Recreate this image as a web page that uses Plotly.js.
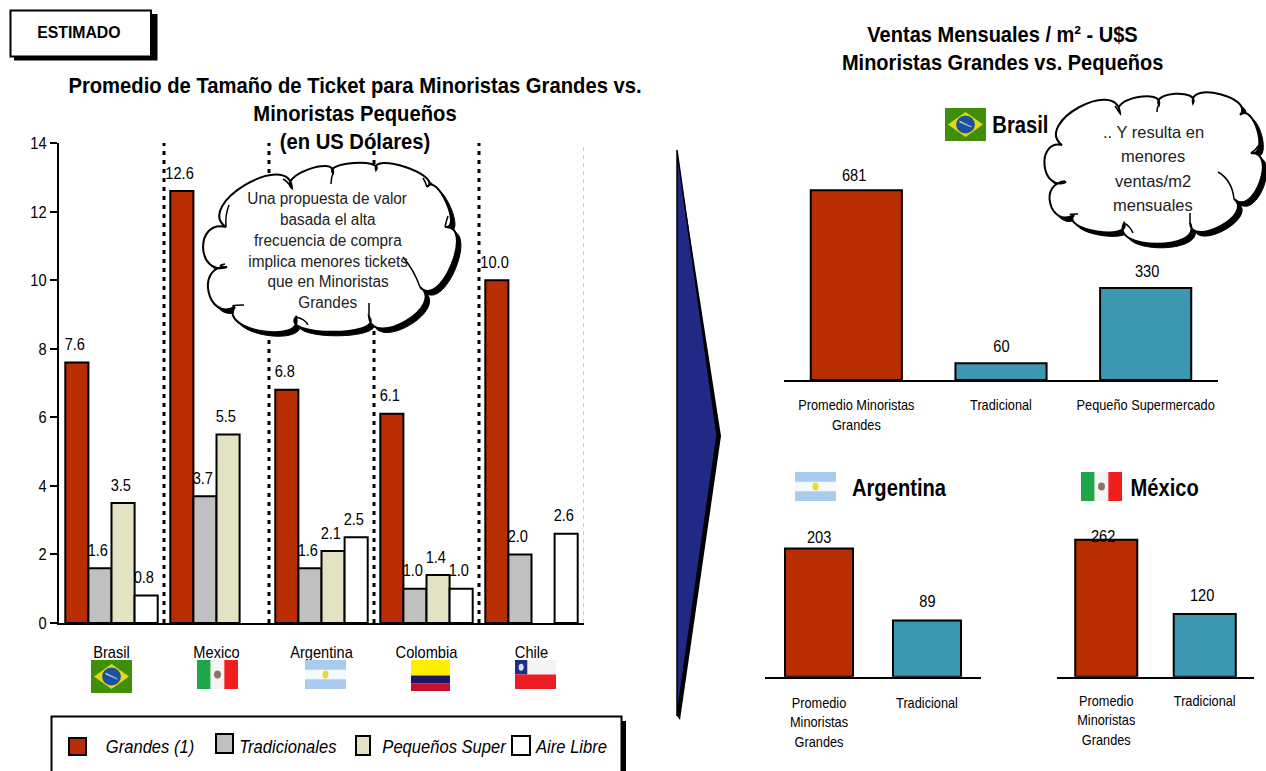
<!DOCTYPE html>
<html>
<head>
<meta charset="utf-8">
<script src="https://cdn.plot.ly/plotly-3.0.1.min.js"></script>
<style>html,body{margin:0;padding:0;background:#fff;overflow:hidden}</style>
</head>
<body>
<div id="chart" style="width:1266px;height:771px"></div>
<script>
// Ticket size by retailer type, per country
const countries = ['Brasil', 'Mexico', 'Argentina', 'Colombia', 'Chile'];
const grandes = [7.6, 12.6, 6.8, 6.1, 10.0];
const tradicionales = [1.6, 3.7, 1.6, 1.0, 2.0];
const pequenos = [3.5, 5.5, 2.1, 1.4, null];
const aireLibre = [0.8, null, 2.5, 1.0, 2.6];
const yTicks = [0, 2, 4, 6, 8, 10, 12, 14];

// Monthly sales per square metre
const brasilCats = ['Promedio Minoristas<br>Grandes', 'Tradicional', 'Pequeño Supermercado'];
const brasilVentas = [681, 60, 330];
const argentinaCats = ['Promedio<br>Minoristas<br>Grandes', 'Tradicional'];
const argentinaVentas = [203, 89];
const mexicoCats = ['Promedio<br>Minoristas<br>Grandes', 'Tradicional'];
const mexicoVentas = [262, 120];

const W = 1266, H = 771;
const FONT = '"Liberation Sans",Arial,sans-serif';
const RED = '#B82E00', GREY = '#C0C0C0', BEIGE = '#E3E3C3', TEAL = '#3E97B0', NAVY = '#202A85';
const px = x => x / W;
const py = y => 1 - y / H;

const shapes = [];
const annotations = [];

function rect(x0, y0, x1, y1, fill, line, lw) {
  shapes.push({type: 'rect', xref: 'paper', yref: 'paper', x0: px(x0), x1: px(x1), y0: py(y0), y1: py(y1),
    fillcolor: fill, line: {color: line || fill, width: line ? (lw || 1) : 0}});
}
function poly(points, fill, line, lw) {
  const d = points.map((p, i) => (i ? 'L' : 'M') + px(p[0]) + ' ' + py(p[1])).join(' ') + ' Z';
  shapes.push({type: 'path', xref: 'paper', yref: 'paper', path: d, fillcolor: fill,
    line: {color: line || fill, width: line ? (lw || 1) : 0}});
}
function disc(cx, cy, rx, ry, fill) {
  shapes.push({type: 'circle', xref: 'paper', yref: 'paper', x0: px(cx - rx), x1: px(cx + rx),
    y0: py(cy + ry), y1: py(cy - ry), fillcolor: fill, line: {width: 0}});
}
function label(text, x, y, size, font) {
  annotations.push({text, x: px(x), y: py(y), xref: 'paper', yref: 'paper', showarrow: false,
    xanchor: 'center', yanchor: 'middle', align: 'center',
    font: Object.assign({family: FONT, size, color: '#000'}, font || {})});
}
function textLines(lines, cx, y0, dy, size, color) {
  lines.forEach((t, i) => label(t, cx, y0 + i * dy, size, {color}));
}

// Scalloped outline: one cubic lobe between each pair of junction points
function lobes(pts, bulges, dx, dy) {
  let d = '';
  const n = pts.length;
  const X = x => px(x + dx), Y = y => py(y + dy);
  pts.forEach((a, i) => {
    const b = pts[(i + 1) % n];
    const vx = b[0] - a[0], vy = b[1] - a[1];
    const nx = vy, ny = -vx;
    const k = bulges[i];
    const c1 = [a[0] + nx * k - vx * 0.22, a[1] + ny * k - vy * 0.22];
    const c2 = [b[0] + nx * k + vx * 0.22, b[1] + ny * k + vy * 0.22];
    if (i === 0) d += 'M' + X(a[0]) + ' ' + Y(a[1]);
    d += ' C' + X(c1[0]) + ' ' + Y(c1[1]) + ' ' + X(c2[0]) + ' ' + Y(c2[1]) + ' ' + X(b[0]) + ' ' + Y(b[1]);
  });
  return d + ' Z';
}
function cloud(pts, bulges, creases, shadow) {
  shapes.push({type: 'path', xref: 'paper', yref: 'paper', path: lobes(pts, bulges, shadow, shadow),
    fillcolor: '#000', line: {color: '#000', width: 1}});
  shapes.push({type: 'path', xref: 'paper', yref: 'paper', path: lobes(pts, bulges, 0, 0),
    fillcolor: '#fff', line: {color: '#000', width: 2}});
  creases.forEach(c => {
    const d = 'M' + px(c[0]) + ' ' + py(c[1]) + ' Q' + px(c[2]) + ' ' + py(c[3]) + ' ' + px(c[4]) + ' ' + py(c[5]);
    shapes.push({type: 'path', xref: 'paper', yref: 'paper', path: d, line: {color: '#000', width: 1.5}});
  });
}

// Flags, drawn from simple shapes
function flagBrasil(x0, y0, x1, y1) {
  const cx = (x0 + x1) / 2, cy = (y0 + y1) / 2, w = x1 - x0, h = y1 - y0;
  rect(x0, y0, x1, y1, '#3F8F0A');
  poly([[x0 + 3, cy], [cx, y0 + 4], [x1 - 3, cy], [cx, y1 - 4]], '#E4D810');
  disc(cx, cy, w * 0.23, h * 0.27, '#1F4FA0');
  poly([[cx - 6, cy - 4], [cx + 6, cy + 2], [cx + 6, cy + 3], [cx - 6, cy - 2]], '#A9C4DE');
}
function flagMexico(x0, y0, x1, y1) {
  const t = (x1 - x0) / 3, cy = (y0 + y1) / 2;
  rect(x0, y0, x0 + t, y1, '#1FA64A');
  rect(x0 + t, y0, x0 + 2 * t, y1, '#F4F4F4');
  rect(x0 + 2 * t, y0, x1, y1, '#F01E1E');
  disc((x0 + x1) / 2, cy, 3.5, 4, '#8A7468');
}
function flagArgentina(x0, y0, x1, y1) {
  const t = (y1 - y0) / 3, cy = (y0 + y1) / 2;
  rect(x0, y0, x1, y1, '#A8CBEE');
  rect(x0, y0 + t, x1, y0 + 2 * t, '#F6F9FD');
  disc((x0 + x1) / 2, cy, 3, 4, '#E8DC30');
}
function flagColombia(x0, y0, x1, y1) {
  const h = y1 - y0;
  rect(x0, y0, x1, y0 + h / 2, '#FFEE00');
  rect(x0, y0 + h / 2, x1, y0 + 0.75 * h, '#1E1464');
  rect(x0, y0 + 0.75 * h, x1, y1, '#C8102E');
}
function flagChile(x0, y0, x1, y1) {
  const m = (y0 + y1) / 2, sq = (x1 - x0) * 0.3;
  rect(x0, y0, x1, m, '#F4F4F4');
  rect(x0, y0, x0 + sq, m, '#1A2E8C');
  disc(x0 + sq / 2, (y0 + m) / 2, 2.5, 3.5, '#D8E0EE');
  rect(x0, m, x1, y1, '#EE1C25');
}

// Separators between the country groups, beneath the callout
countries.forEach((c, i) => {
  const last = i === countries.length - 1;
  shapes.push({type: 'line', xref: 'x', yref: 'y', x0: i + 0.5, x1: i + 0.5, y0: 0, y1: 14,
    line: last ? {color: '#9A9A9A', width: 1, dash: '4px,4px'} : {color: '#000', width: 3, dash: '4px,5px'}});
});

// "Estimado" stamp
rect(14, 14, 157.5, 60.5, '#000');
rect(10.5, 10.5, 151, 56.5, '#fff', '#000', 2);
label('ESTIMADO', 79, 33, 17, {weight: 'bold'});

// Callouts
cloud([[226, 227], [292, 188], [333, 173], [376, 170], [427, 187], [445, 227], [420, 287], [369, 317], [296, 317], [235, 307], [227, 267]],
  [0.46, 0.36, 0.26, 0.3, 0.34, 0.42, 0.5, 0.27, 0.42, 0.75, 0.78],
  [[226, 227, 225, 215, 229, 205], [292, 188, 287, 181, 283, 179], [333, 173, 331, 178, 331, 184], [427, 187, 426, 183, 423, 178],
   [445, 227, 446, 222, 448, 216], [420, 287, 414, 270, 403, 257], [369, 317, 369, 309, 369, 303],
   [296, 317, 305, 319, 308, 325], [235, 307, 228, 305, 244, 305], [227, 267, 215, 266, 225, 264]], 4);
cloud([[1062, 145], [1120, 113], [1159, 105], [1193, 103], [1240, 115], [1251, 153], [1234, 199], [1190, 223], [1124, 223], [1074, 215], [1066, 182]],
  [0.5, 0.4, 0.4, 0.42, 0.42, 0.5, 0.46, 0.42, 0.33, 0.8, 0.7],
  [[1120, 113, 1117, 109, 1115, 106], [1159, 105, 1157, 107, 1157, 112], [1251, 153, 1256, 150, 1259, 145],
   [1234, 199, 1232, 180, 1218, 172], [1190, 223, 1190, 218, 1190, 213],
   [1124, 223, 1130, 226, 1133, 233], [1074, 215, 1065, 214, 1078, 214], [1066, 182, 1055, 182, 1065, 181]], 4);
textLines(['Una propuesta de valor', 'basada el alta', 'frecuencia de compra', 'implica menores tickets', 'que en Minoristas', 'Grandes'], 328, 199, 20.7, 16, '#222');
textLines(['.. Y resulta en', 'menores', 'ventas/m2', 'mensuales'], 1153, 132, 24.3, 16.5, '#222');

// Pointer between the two panels
poly([[677, 152], [721, 436], [680, 720], [677, 716]], '#000');
poly([[677, 150], [717, 435], [677, 716]], NAVY, '#000', 1.5);

// Country flags below the ticket chart and beside the sales charts
flagBrasil(91, 660, 132, 693);
flagMexico(197, 660, 238, 689);
flagArgentina(305, 660, 346, 689);
flagColombia(411, 660, 450, 691);
flagChile(515, 660, 556, 689);
flagBrasil(945, 108, 986, 141);
flagArgentina(795, 472, 836, 501);
flagMexico(1081, 472, 1122, 501);

// Panel headings
label('Ventas Mensuales / m² - U$S', 1002, 35, 22, {weight: 'bold'});
label('Minoristas Grandes vs. Pequeños', 1002, 62, 22, {weight: 'bold'});
label('Brasil', 1020, 125, 24, {weight: 'bold'});
label('Argentina', 899, 487, 24, {weight: 'bold'});
label('México', 1164, 487, 24, {weight: 'bold'});

// Key for the ticket chart, its lower edge running off the page
rect(56, 721, 626, 790, '#000');
rect(51.5, 716.5, 621.5, 790, '#fff', '#000', 2);
const keyNames = ['Grandes (1)', 'Tradicionales', 'Pequeños Super', 'Aire Libre'];
const keyColors = [RED, GREY, BEIGE, '#fff'];
const keySwatch = [[69, 738, 86, 755], [216, 734, 233, 753], [356, 736, 370, 755], [512, 736, 530, 755]];
const keyText = [150, 288, 444.5, 570.5];
keyNames.forEach((n, i) => {
  const s = keySwatch[i];
  rect(s[0], s[1], s[2], s[3], keyColors[i], '#000', 2);
  label(n, keyText[i], 747, 18, {style: 'italic'});
});

// Value labels, placed relative to the scaled value
function ticketLabels(values, slot) {
  values.forEach((v, i) => {
    if (v === null) return;
    annotations.push({text: v.toFixed(1), xref: 'x', yref: 'y', x: i + (slot - 1.5) * 0.22, y: v,
      xshift: -2, yshift: 18, showarrow: false, xanchor: 'center', yanchor: 'middle',
      font: {family: FONT, size: 17, color: '#000'}});
  });
}
[grandes, tradicionales, pequenos, aireLibre].forEach(ticketLabels);

function salesLabels(cats, values, axis, shiftX, shiftY) {
  values.forEach((v, i) => {
    annotations.push({text: String(v), xref: 'x' + axis, yref: 'y' + axis, x: cats[i], y: v,
      xshift: shiftX[i], yshift: shiftY[i], showarrow: false, xanchor: 'center', yanchor: 'middle',
      font: {family: FONT, size: 17, color: '#000'}});
  });
}
salesLabels(brasilCats, brasilVentas, 2, [-2, 0, 1], [15, 17, 17]);
salesLabels(argentinaCats, argentinaVentas, 3, [0, 0], [11, 19]);
salesLabels(mexicoCats, mexicoVentas, 4, [-3, -3], [3, 19]);

const bar = (name, y, color) => ({type: 'bar', name, x: countries.map((c, i) => i), y,
  marker: {color, line: {color: '#000', width: 2}}, xaxis: 'x', yaxis: 'y', hoverinfo: 'name+y'});
const sales = (x, y, colors, axis) => ({type: 'bar', x, y, width: 0.63,
  marker: {color: colors, line: {color: '#000', width: 2}}, xaxis: 'x' + axis, yaxis: 'y' + axis, hoverinfo: 'x+y'});

const data = [
  bar('Grandes (1)', grandes, RED),
  bar('Tradicionales', tradicionales, GREY),
  bar('Pequeños Super', pequenos, BEIGE),
  bar('Aire Libre', aireLibre, '#fff'),
  sales(brasilCats, brasilVentas, [RED, TEAL, TEAL], 2),
  sales(argentinaCats, argentinaVentas, [RED, TEAL], 3),
  sales(mexicoCats, mexicoVentas, [RED, TEAL], 4)
];

const salesX = (x0, x1, anchor, standoff) => ({domain: [px(x0), px(x1)], anchor, showline: true, linecolor: '#000', linewidth: 2,
  ticks: '', showgrid: false, zeroline: false, automargin: false, tickangle: 0, ticklabelstandoff: standoff,
  tickfont: {family: FONT, size: 15, color: '#000'}});
const salesY = (top, base, anchor, max) => ({domain: [py(base), py(top)], anchor, range: [0, max], visible: false, showgrid: false, zeroline: false});

const layout = {
  width: W, height: H, autosize: false, showlegend: false, barmode: 'group',
  bargap: 0.12, bargroupgap: 0,
  paper_bgcolor: '#fff', plot_bgcolor: 'rgba(0,0,0,0)',
  margin: {l: 0, r: 0, t: 0, b: 0},
  title: {text: 'Promedio de Tamaño de Ticket para Minoristas Grandes vs.<br>Minoristas Pequeños<br>(en US Dólares)',
    xref: 'paper', yref: 'paper', x: px(355), y: py(93), xanchor: 'center', yanchor: 'middle',
    font: {family: FONT, size: 21.5, weight: 'bold', color: '#000'}},
  xaxis: {domain: [px(59), px(584)], anchor: 'y', range: [-0.5, 4.5], tickvals: countries.map((c, i) => i), ticktext: countries,
    showline: true, linecolor: '#000', linewidth: 2, ticks: '', showgrid: false, zeroline: false, automargin: false,
    ticklabelstandoff: 13, tickfont: {family: FONT, size: 17, color: '#000'}},
  yaxis: {domain: [py(623), py(143)], anchor: 'x', range: [0, 14], tickvals: yTicks,
    showline: true, linecolor: '#000', linewidth: 2, ticks: 'outside', ticklen: 7, tickwidth: 2, tickcolor: '#000',
    showgrid: false, zeroline: false, automargin: false, tickfont: {family: FONT, size: 17, color: '#000'}},
  xaxis2: salesX(784, 1218, 'y2', 10),
  yaxis2: salesY(185, 380, 'x2', 700),
  xaxis3: salesX(765, 981, 'y3', 11),
  yaxis3: salesY(525, 676.7, 'x3', 240),
  xaxis4: salesX(1057, 1254, 'y4', 9),
  yaxis4: salesY(520, 676.7, 'x4', 300),
  shapes, annotations
};

// The slide's lettering is horizontally condensed; narrow each line by a factor tied to its style
const CONDENSE = {'24b': 0.84, '22b': 0.91, '21.5b': 0.94, '17b': 0.93, '16': 0.96, '16.5': 1, '15': 0.85, '17': 0.86, '18': 0.92};
function condenseText() {
  document.querySelectorAll('#chart svg text').forEach(t => {
    const w = t.style.fontWeight;
    const bold = w === 'bold' || parseInt(w, 10) >= 600;
    const f = CONDENSE[parseFloat(t.style.fontSize) + (bold ? 'b' : '')];
    if (!f || f === 1) return;
    const lines = t.querySelectorAll('tspan.line');
    (lines.length ? Array.from(lines) : [t]).forEach(el => {
      const len = el.getComputedTextLength();
      if (len > 0) {
        el.setAttribute('textLength', len * f);
        el.setAttribute('lengthAdjust', 'spacingAndGlyphs');
      }
    });
  });
}

Plotly.newPlot('chart', data, layout, {displayModeBar: false, responsive: false}).then(condenseText);
</script>
</body>
</html>
